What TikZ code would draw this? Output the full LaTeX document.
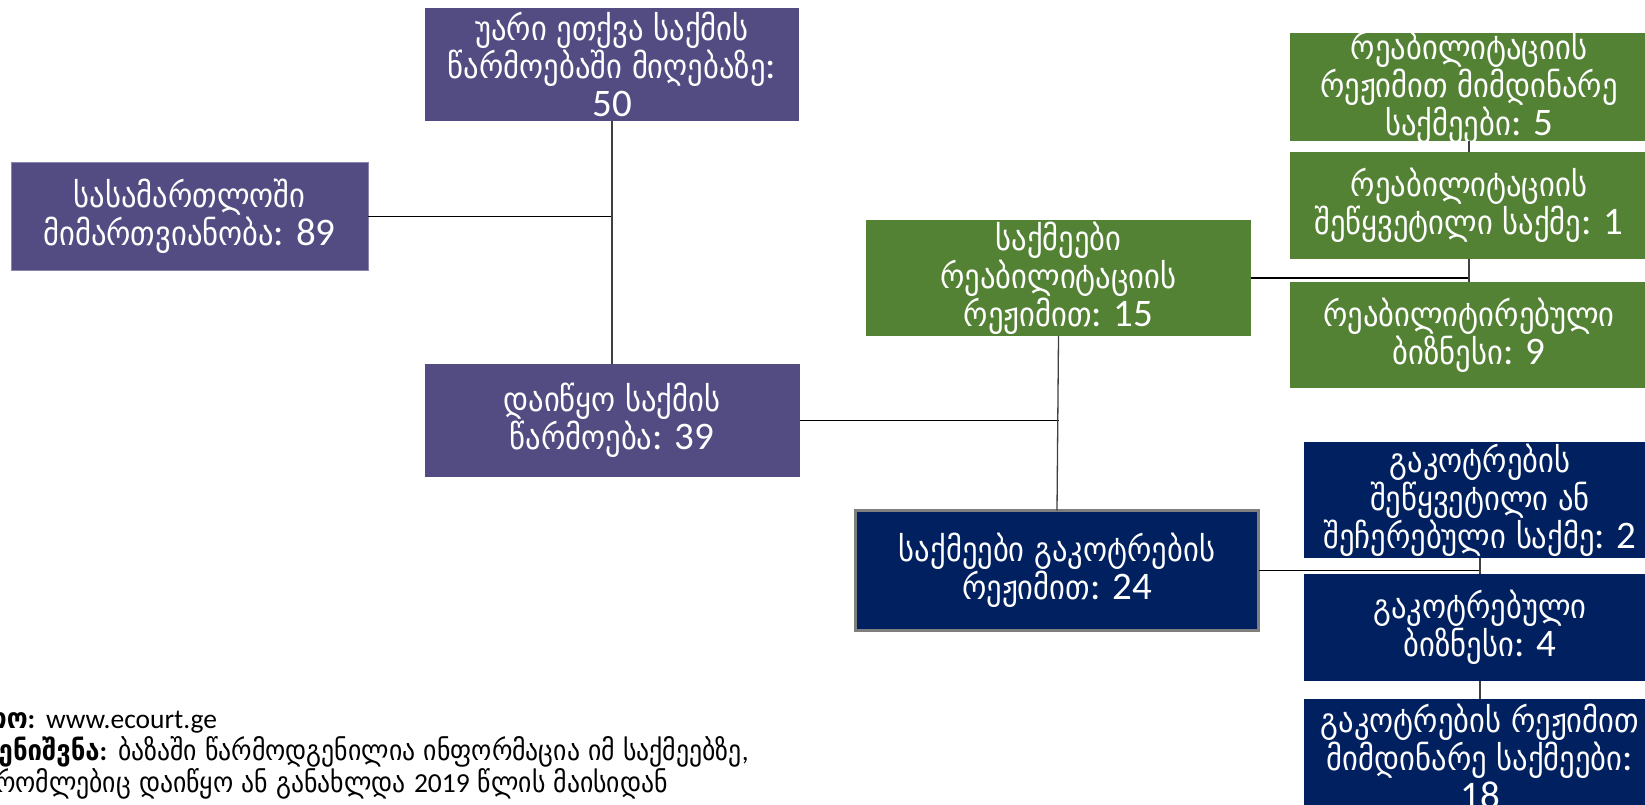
\documentclass[tikz,border=0pt]{standalone}
\usepackage{fontspec}
\setmainfont{DejaVu Sans Condensed}
\newfontfamily\carl{Carlito}
\newcommand\nm[1]{{\carl\fontsize{39}{38}\selectfont #1}}
\newcommand\nf[1]{{\carl\fontsize{27.5}{32}\selectfont #1}}
\definecolor{cpurple}{HTML}{534C82}
\definecolor{cgreen}{HTML}{548235}
\definecolor{cnavy}{HTML}{002060}
\definecolor{cborder}{HTML}{8A84B0}
\definecolor{cgray}{HTML}{7F7F7F}
\definecolor{cvline}{HTML}{404040}
\tikzset{
  boxbase/.style={rectangle, inner sep=0pt, outer sep=0pt},
  pbox/.style={boxbase, fill=cpurple},
  gbox/.style={boxbase, fill=cgreen},
  nbox/.style={boxbase, fill=cnavy},
  lbl/.style={text=white, align=center, inner sep=0pt, font=\fontsize{34}{38}\selectfont},
  hline/.style={draw=black, line width=1.8pt},
  vline/.style={draw=cvline, line width=1.3pt},
  foot/.style={inner sep=0pt, font=\fontsize{28.6}{32}\selectfont, text=black}
}
\begin{document}
\begin{tikzpicture}[x=1pt,y=-1pt]
\clip (0,0) rectangle (1645,805);
\fill[white] (0,0) rectangle (1645,805);
% left column
\node[pbox, draw=cborder, line width=1pt, minimum width=357, minimum height=107,
  label={[lbl]center:{სასამართლოში\\მიმართვიანობა\nm{: 89}}}] (a) at (189.5,216.5) {};
\node[pbox, minimum width=374, minimum height=113,
  label={[lbl]center:{უარი ეთქვა საქმის\\წარმოებაში მიღებაზე\nm{:}\\\nm{50}}}] (b) at (612,64.5) {};
\node[pbox, minimum width=375, minimum height=113,
  label={[lbl]center:{დაიწყო საქმის\\წარმოება\nm{: 39}}}] (c) at (612,420.5) {};
% middle column
\node[gbox, minimum width=385, minimum height=116,
  label={[lbl]center:{საქმეები\\რეაბილიტაციის\\რეჟიმით\nm{: 15}}}] (d) at (1058.5,278) {};
\node[nbox, draw=cgray, line width=3pt, minimum width=403, minimum height=120,
  label={[lbl]center:{საქმეები გაკოტრების\\რეჟიმით\nm{: 24}}}] (e) at (1057,570.5) {};
% right column green
\node[gbox, minimum width=358, minimum height=108,
  label={[lbl]center:{რეაბილიტაციის\\რეჟიმით მიმდინარე\\საქმეები\nm{: 5}}}] (g1) at (1469,87) {};
\node[gbox, minimum width=358, minimum height=107,
  label={[lbl]center:{რეაბილიტაციის\\შეწყვეტილი საქმე\nm{: 1}}}] (g2) at (1469,205.5) {};
\node[gbox, minimum width=358, minimum height=106,
  label={[lbl]center:{რეაბილიტირებული\\ბიზნესი\nm{: 9}}}] (g3) at (1469,335) {};
% right column navy
\node[nbox, minimum width=352, minimum height=116,
  label={[lbl]center:{გაკოტრების\\შეწყვეტილი ან\\შეჩერებული საქმე\nm{: 2}}}] (n1) at (1480,500) {};
\node[nbox, minimum width=352, minimum height=107,
  label={[lbl]center:{გაკოტრებული\\ბიზნესი\nm{: 4}}}] (n2) at (1480,627.5) {};
\node[nbox, minimum width=352, minimum height=114,
  label={[lbl]center:{გაკოტრების რეჟიმით\\მიმდინარე საქმეები\nm{:}\\\nm{18}}}] (n3) at (1480,756) {};
% connectors
\draw[hline] (a.east) -- (a.east -| b.south);
\draw[vline] (b.south) -- (c.north);
\draw[hline] (c.east) -- (c.east -| d.south);
\draw[vline] (d.south) -- (e.north);
\draw[hline] (d.east) -- (d.east -| g1.south);
\draw[vline] (g1.south) -- (g2.north);
\draw[vline] (g2.south) -- (g3.north);
\draw[hline] (e.east) -- (e.east -| n1.south);
\draw[vline] (n1.south) -- (n2.north);
\draw[vline] (n2.south) -- (n3.north);
% footnote
\node[foot, anchor=base west] (f1) at (46,728) {\llap{\textbf{წყარო\nf{:}} }\nf{www.ecourt.ge}};
\node[foot, anchor=base west] (f2) at (118,760) {\llap{\textbf{შენიშვნა\nf{:}} }ბაზაში წარმოდგენილია ინფორმაცია იმ საქმეებზე\nf{,}};
\node[foot, anchor=base east] (f3) at (668,792) {რომლებიც დაიწყო ან განახლდა \nf{2019} წლის მაისიდან};
\end{tikzpicture}
\end{document}
